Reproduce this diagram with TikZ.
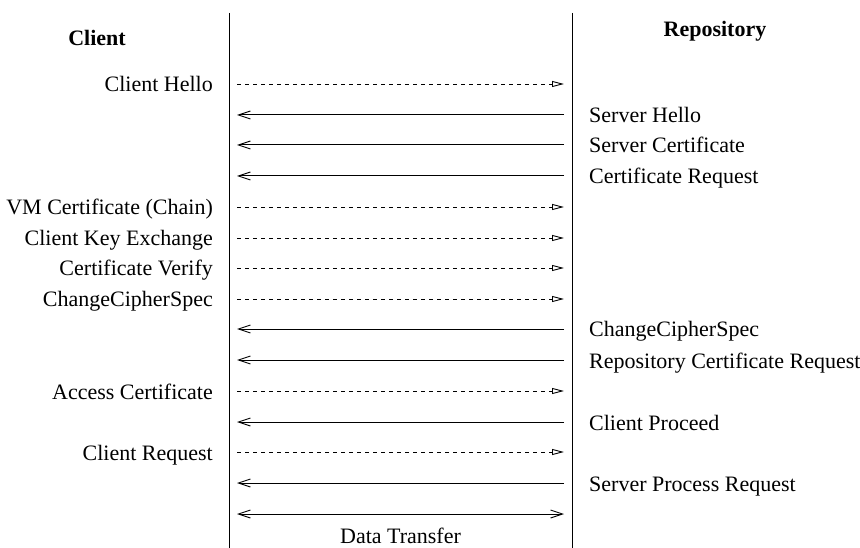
\documentclass[tikz,border=0pt]{standalone}
\usepackage{fontspec}
\setmainfont{Liberation Serif}
\usetikzlibrary{arrows.meta}
\begin{document}
\begin{tikzpicture}[x=1pt,y=-1pt,
  lbl/.style={inner sep=0pt,font=\fontsize{22}{25}\selectfont},
  lefttxt/.style={lbl,anchor=base east},
  righttxt/.style={lbl,anchor=base west},
  head/.style={lbl,font=\fontsize{22}{25}\selectfont\bfseries},
  lifeline/.style={line width=1pt},
  req/.style={line width=0.9pt,dash pattern=on 4pt off 4pt,
    -{Triangle[open,length=12pt,width=6pt,line width=0.9pt]}},
  resp/.style={line width=1pt,-{Straight Barb[length=12pt,width=8pt,line width=0.9pt]}},
  both/.style={line width=1pt,{Straight Barb[length=12pt,width=8pt,line width=0.9pt]}-{Straight Barb[length=12pt,width=8pt,line width=0.9pt]}}]
\useasboundingbox (0,0) rectangle (860,548);

% lifelines
\coordinate (ctop) at (229,13);
\coordinate (cbot) at (229,548);
\coordinate (rtop) at (572,13);
\coordinate (rbot) at (572,548);
\draw[lifeline] (ctop) -- (cbot);
\draw[lifeline] (rtop) -- (rbot);

% headings
\node[head] (client) at (97,38) {Client};
\node[head] (repo) at (715,31) {Repository};

% message end points, one pair per row
\foreach \n/\y in {1/84,2/115,3/145,4/176,5/207,6/238,7/268,8/299,
                   9/329,10/360,11/391,12/422,13/452,14/483,15/514}{
  \coordinate (L\n) at (237,\y);
  \coordinate (R\n) at (564,\y);
}

% client to repository (dashed)
\foreach \n in {1,5,6,7,8,11,13}{ \draw[req] (L\n) -- (R\n); }
% repository to client (solid)
\foreach \n in {2,3,4,9,10,12,14}{ \draw[resp] (R\n) -- (L\n); }
% data transfer
\draw[both] (L15) -- (R15);

% client-side labels
\node[lefttxt] (t1) at (213,92) {Client Hello};
\node[lefttxt] (t5) at (213,215) {VM Certificate (Chain)};
\node[lefttxt] (t6) at (213,246) {Client Key Exchange};
\node[lefttxt] (t7) at (213,276) {Certificate Verify};
\node[lefttxt] (t8) at (213,307) {ChangeCipherSpec};
\node[lefttxt] (t11) at (213,399) {Access Certificate};
\node[lefttxt] (t13) at (213,460) {Client Request};

% repository-side labels
\node[righttxt] (t2) at (589,123) {Server Hello};
\node[righttxt] (t3) at (589,153) {Server Certificate};
\node[righttxt] (t4) at (589,184) {Certificate Request};
\node[righttxt] (t9) at (589,337) {ChangeCipherSpec};
\node[righttxt] (t10) at (589,368) {Repository Certificate Request};
\node[righttxt] (t12) at (589,430) {Client Proceed};
\node[righttxt] (t14) at (589,491) {Server Process Request};

\node[lbl,anchor=base] (t15) at (400.5,543) {Data Transfer};
\end{tikzpicture}
\end{document}
